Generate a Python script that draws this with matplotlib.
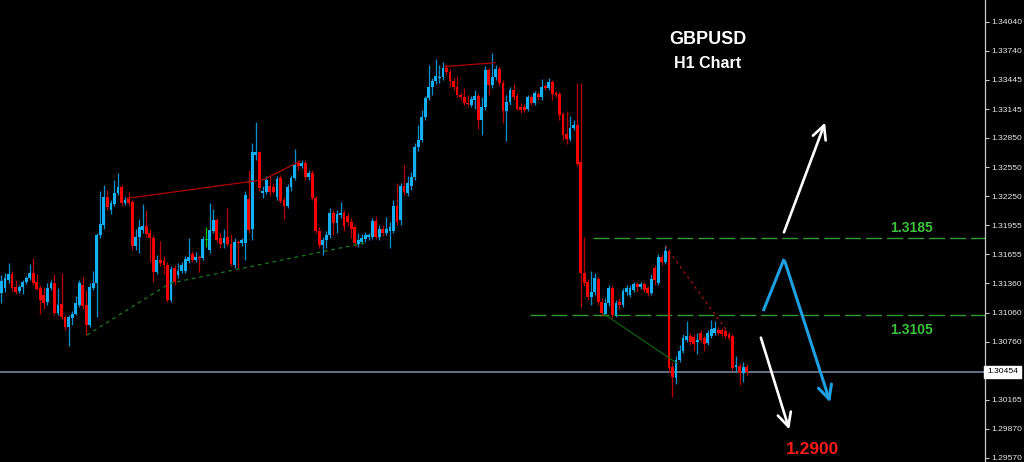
import matplotlib
matplotlib.use("Agg")
import matplotlib.pyplot as plt
import matplotlib.transforms as mtransforms
from matplotlib.patches import FancyArrowPatch

# GBPUSD H1 candles, oldest first
opens = [
    1.3126, 1.3131, 1.3139, 1.3146, 1.3132, 1.3128, 1.3132, 1.3137, 1.3141, 1.3147,
    1.3137, 1.3131, 1.3124, 1.3117, 1.3131, 1.3136, 1.3106, 1.3115, 1.3101, 1.3091,
    1.3100, 1.3105, 1.3114, 1.3134, 1.3114, 1.3093, 1.3131, 1.3136, 1.3185, 1.3196,
    1.3224, 1.3211, 1.3217, 1.3228, 1.3235, 1.3218, 1.3222, 1.3219, 1.3174, 1.3183,
    1.3191, 1.3195, 1.3187, 1.3182, 1.3148, 1.3160, 1.3159, 1.3155, 1.3119, 1.3152,
    1.3144, 1.3149, 1.3149, 1.3159, 1.3166, 1.3160, 1.3163, 1.3162, 1.3180, 1.3170,
    1.3190, 1.3201, 1.3182, 1.3177, 1.3183, 1.3176, 1.3155, 1.3178, 1.3177, 1.3177,
    1.3222, 1.3192, 1.3267, 1.3270, 1.3228, 1.3229, 1.3236, 1.3235, 1.3224, 1.3244,
    1.3221, 1.3215, 1.3235, 1.3244, 1.3259, 1.3256, 1.3259, 1.3245, 1.3249, 1.3223,
    1.3190, 1.3175, 1.3180, 1.3185, 1.3208, 1.3198, 1.3206, 1.3208, 1.3205, 1.3199,
    1.3194, 1.3176, 1.3178, 1.3181, 1.3183, 1.3183, 1.3200, 1.3183, 1.3192, 1.3187,
    1.3190, 1.3190, 1.3215, 1.3201, 1.3236, 1.3228, 1.3236, 1.3245, 1.3276, 1.3283,
    1.3306, 1.3326, 1.3337, 1.3343, 1.3346, 1.3347, 1.3357, 1.3352, 1.3343, 1.3337,
    1.3329, 1.3327, 1.3321, 1.3319, 1.3324, 1.3328, 1.3303, 1.3317, 1.3355, 1.3339,
    1.3347, 1.3356, 1.3341, 1.3312, 1.3322, 1.3334, 1.3328, 1.3317, 1.3317, 1.3315,
    1.3327, 1.3321, 1.3330, 1.3327, 1.3338, 1.3336, 1.3342, 1.3331, 1.3330, 1.3309,
    1.3289, 1.3284, 1.3295, 1.3298, 1.3260, 1.3147, 1.3137, 1.3122, 1.3127, 1.3140,
    1.3117, 1.3105, 1.3116, 1.3131, 1.3103, 1.3117, 1.3114, 1.3127, 1.3124, 1.3129,
    1.3135, 1.3132, 1.3135, 1.3131, 1.3126, 1.3152, 1.3136, 1.3163, 1.3158, 1.3169,
    1.3050, 1.3039, 1.3057, 1.3067, 1.3078, 1.3082, 1.3081, 1.3076, 1.3085, 1.3080,
    1.3075, 1.3082, 1.3085, 1.3088, 1.3088, 1.3087, 1.3084, 1.3082, 1.3050, 1.3051,
    1.3044, 1.3050,
]
highs = [
    1.3144, 1.3147, 1.3157, 1.3149, 1.3139, 1.3134, 1.3139, 1.3143, 1.3156, 1.3162,
    1.3145, 1.3134, 1.3132, 1.3136, 1.3139, 1.3146, 1.3131, 1.3147, 1.3104, 1.3104,
    1.3108, 1.3123, 1.3139, 1.3142, 1.3129, 1.3136, 1.3149, 1.3188, 1.3231, 1.3237,
    1.3232, 1.3221, 1.3242, 1.3249, 1.3237, 1.3224, 1.3229, 1.3221, 1.3192, 1.3202,
    1.3217, 1.3211, 1.3192, 1.3185, 1.3165, 1.3179, 1.3164, 1.3158, 1.3154, 1.3155,
    1.3157, 1.3158, 1.3164, 1.3182, 1.3169, 1.3168, 1.3165, 1.3184, 1.3194, 1.3218,
    1.3212, 1.3203, 1.3188, 1.3192, 1.3213, 1.3186, 1.3182, 1.3180, 1.3182, 1.3231,
    1.3252, 1.3280, 1.3301, 1.3272, 1.3236, 1.3246, 1.3246, 1.3239, 1.3246, 1.3247,
    1.3224, 1.3238, 1.3247, 1.3274, 1.3262, 1.3262, 1.3262, 1.3252, 1.3252, 1.3225,
    1.3194, 1.3183, 1.3190, 1.3213, 1.3211, 1.3211, 1.3219, 1.3211, 1.3208, 1.3203,
    1.3196, 1.3188, 1.3186, 1.3189, 1.3188, 1.3203, 1.3205, 1.3196, 1.3196, 1.3204,
    1.3199, 1.3221, 1.3239, 1.3239, 1.3257, 1.3246, 1.3250, 1.3280, 1.3298, 1.3313,
    1.3328, 1.3360, 1.3346, 1.3366, 1.3360, 1.3363, 1.3361, 1.3356, 1.3346, 1.3348,
    1.3332, 1.3336, 1.3329, 1.3328, 1.3334, 1.3331, 1.3327, 1.3359, 1.3357, 1.3372,
    1.3360, 1.3359, 1.3344, 1.3329, 1.3337, 1.3340, 1.3331, 1.3321, 1.3320, 1.3329,
    1.3329, 1.3333, 1.3332, 1.3345, 1.3340, 1.3346, 1.3344, 1.3333, 1.3332, 1.3311,
    1.3312, 1.3307, 1.3303, 1.3341, 1.3341, 1.3183, 1.3140, 1.3149, 1.3147, 1.3142,
    1.3121, 1.3121, 1.3134, 1.3133, 1.3119, 1.3121, 1.3131, 1.3134, 1.3134, 1.3137,
    1.3137, 1.3137, 1.3137, 1.3133, 1.3145, 1.3155, 1.3166, 1.3166, 1.3175, 1.3171,
    1.3055, 1.3061, 1.3073, 1.3084, 1.3097, 1.3085, 1.3084, 1.3085, 1.3088, 1.3083,
    1.3088, 1.3098, 1.3097, 1.3091, 1.3090, 1.3089, 1.3086, 1.3084, 1.3062, 1.3054,
    1.3055, 1.3053,
]
lows = [
    1.3116, 1.3127, 1.3136, 1.3128, 1.3125, 1.3126, 1.3125, 1.3135, 1.3139, 1.3134,
    1.3129, 1.3105, 1.3110, 1.3114, 1.3129, 1.3104, 1.3103, 1.3099, 1.3088, 1.3072,
    1.3093, 1.3103, 1.3112, 1.3110, 1.3083, 1.3091, 1.3129, 1.3101, 1.3182, 1.3192,
    1.3211, 1.3207, 1.3215, 1.3226, 1.3215, 1.3216, 1.3215, 1.3170, 1.3170, 1.3167,
    1.3188, 1.3183, 1.3158, 1.3137, 1.3146, 1.3154, 1.3145, 1.3117, 1.3117, 1.3134,
    1.3141, 1.3147, 1.3147, 1.3157, 1.3158, 1.3158, 1.3148, 1.3160, 1.3173, 1.3167,
    1.3188, 1.3178, 1.3172, 1.3172, 1.3174, 1.3154, 1.3152, 1.3152, 1.3174, 1.3160,
    1.3188, 1.3180, 1.3262, 1.3231, 1.3223, 1.3227, 1.3225, 1.3228, 1.3221, 1.3218,
    1.3202, 1.3213, 1.3231, 1.3242, 1.3252, 1.3254, 1.3242, 1.3242, 1.3221, 1.3187,
    1.3172, 1.3165, 1.3172, 1.3182, 1.3185, 1.3187, 1.3203, 1.3190, 1.3195, 1.3182,
    1.3174, 1.3173, 1.3176, 1.3178, 1.3180, 1.3181, 1.3181, 1.3180, 1.3184, 1.3185,
    1.3172, 1.3188, 1.3196, 1.3196, 1.3226, 1.3225, 1.3232, 1.3242, 1.3272, 1.3281,
    1.3303, 1.3324, 1.3329, 1.3340, 1.3341, 1.3344, 1.3349, 1.3337, 1.3334, 1.3327,
    1.3324, 1.3319, 1.3318, 1.3317, 1.3315, 1.3294, 1.3288, 1.3313, 1.3329, 1.3336,
    1.3344, 1.3338, 1.3300, 1.3282, 1.3319, 1.3324, 1.3313, 1.3310, 1.3311, 1.3312,
    1.3319, 1.3319, 1.3324, 1.3324, 1.3334, 1.3334, 1.3324, 1.3327, 1.3303, 1.3283,
    1.3279, 1.3282, 1.3293, 1.3256, 1.3112, 1.3133, 1.3119, 1.3114, 1.3124, 1.3114,
    1.3103, 1.3103, 1.3113, 1.3100, 1.3101, 1.3110, 1.3112, 1.3124, 1.3122, 1.3127,
    1.3127, 1.3130, 1.3127, 1.3123, 1.3124, 1.3134, 1.3134, 1.3155, 1.3156, 1.3045,
    1.3019, 1.3033, 1.3055, 1.3065, 1.3076, 1.3073, 1.3067, 1.3064, 1.3076, 1.3067,
    1.3073, 1.3080, 1.3083, 1.3083, 1.3082, 1.3080, 1.3078, 1.3047, 1.3045, 1.3032,
    1.3035, 1.3042,
]
closes = [
    1.3138, 1.3141, 1.3146, 1.3131, 1.3127, 1.3132, 1.3137, 1.3141, 1.3147, 1.3136,
    1.3130, 1.3119, 1.3116, 1.3131, 1.3136, 1.3106, 1.3114, 1.3101, 1.3091, 1.3101,
    1.3105, 1.3116, 1.3136, 1.3113, 1.3093, 1.3132, 1.3136, 1.3185, 1.3197, 1.3224,
    1.3214, 1.3218, 1.3228, 1.3235, 1.3218, 1.3221, 1.3218, 1.3174, 1.3183, 1.3194,
    1.3195, 1.3186, 1.3182, 1.3148, 1.3160, 1.3157, 1.3155, 1.3119, 1.3151, 1.3137,
    1.3149, 1.3155, 1.3161, 1.3163, 1.3160, 1.3163, 1.3162, 1.3181, 1.3180, 1.3191,
    1.3201, 1.3180, 1.3176, 1.3182, 1.3176, 1.3156, 1.3178, 1.3177, 1.3180, 1.3226,
    1.3191, 1.3270, 1.3270, 1.3234, 1.3231, 1.3242, 1.3230, 1.3230, 1.3243, 1.3220,
    1.3215, 1.3235, 1.3244, 1.3257, 1.3256, 1.3259, 1.3245, 1.3249, 1.3223, 1.3190,
    1.3175, 1.3180, 1.3185, 1.3208, 1.3198, 1.3207, 1.3208, 1.3195, 1.3199, 1.3192,
    1.3177, 1.3180, 1.3182, 1.3185, 1.3185, 1.3200, 1.3183, 1.3192, 1.3187, 1.3192,
    1.3194, 1.3215, 1.3199, 1.3236, 1.3229, 1.3239, 1.3245, 1.3276, 1.3283, 1.3306,
    1.3326, 1.3337, 1.3343, 1.3348, 1.3347, 1.3357, 1.3352, 1.3343, 1.3337, 1.3329,
    1.3327, 1.3321, 1.3320, 1.3325, 1.3328, 1.3303, 1.3317, 1.3355, 1.3339, 1.3347,
    1.3356, 1.3341, 1.3312, 1.3322, 1.3334, 1.3327, 1.3315, 1.3314, 1.3314, 1.3327,
    1.3321, 1.3331, 1.3327, 1.3337, 1.3336, 1.3342, 1.3330, 1.3329, 1.3308, 1.3288,
    1.3284, 1.3295, 1.3298, 1.3258, 1.3147, 1.3136, 1.3122, 1.3127, 1.3141, 1.3117,
    1.3106, 1.3116, 1.3131, 1.3103, 1.3116, 1.3114, 1.3128, 1.3131, 1.3131, 1.3135,
    1.3132, 1.3135, 1.3129, 1.3126, 1.3140, 1.3139, 1.3163, 1.3158, 1.3169, 1.3049,
    1.3040, 1.3057, 1.3067, 1.3080, 1.3082, 1.3076, 1.3074, 1.3078, 1.3078, 1.3074,
    1.3085, 1.3089, 1.3090, 1.3085, 1.3084, 1.3082, 1.3080, 1.3049, 1.3052, 1.3044,
    1.3050, 1.3045,
]

y_ticks = [1.34040, 1.33740, 1.33445, 1.33145, 1.32850, 1.32550, 1.32250, 1.31955,
           1.31655, 1.31360, 1.31060, 1.30760, 1.30165, 1.29870, 1.29570]
bid = 1.30454
levels = [1.3182, 1.3104]
level_labels = ["1.3185", "1.3105"]
level_start = [167.5, 149.7]
target_label = "1.2900"

BULL, BULL_WICK = "#14aef2", "#0c8cc8"
BEAR, BEAR_WICK = "#f40000", "#b40000"
DOJI = "#00c000"

fig = plt.figure(figsize=(10.24, 4.62), dpi=100, facecolor="black")
ax = fig.add_axes([0, 0, 985 / 1024, 1])
ax.set_facecolor("black")

n = len(closes)
xs = list(range(n))
body_col, wick_col, bottoms, heights = [], [], [], []
for o, c in zip(opens, closes):
    if c > o:
        body_col.append(BULL)
        wick_col.append(BULL_WICK)
    elif c < o:
        body_col.append(BEAR)
        wick_col.append(BEAR_WICK)
    else:
        body_col.append(DOJI)
        wick_col.append(DOJI)
    bottoms.append(min(o, c))
    heights.append(max(abs(c - o), 0.00010))

ax.vlines(xs, lows, highs, colors=wick_col, linewidth=0.95, zorder=3)
ax.bar(xs, heights, bottom=bottoms, width=0.8, color=body_col, linewidth=0, zorder=4)

ax.set_xlim(-0.42, 278.5)
ax.set_ylim(1.29529, 1.34262)

# level lines and current price
for lv, x0 in zip(levels, level_start):
    ax.plot([x0, 278.5], [lv, lv], color="#2f9a2f", linewidth=1.0,
            dashes=(11.5, 3.6), zorder=2)
ax.axhline(bid, color="#8090a4", linewidth=1.1, zorder=2)

# trend lines
ax.plot([35.5, 74.1, 84.5], [1.3223, 1.3242, 1.3261], color="#b00000", linewidth=0.9, zorder=5)
ax.plot([125.6, 139.8], [1.3358, 1.3362], color="#b00000", linewidth=0.9, zorder=5)
ax.plot([188, 205.5], [1.3174, 1.3087], color="#b01010", linewidth=0.9,
        dashes=(2, 3), zorder=5)
ax.plot([170.4, 191.3], [1.3105, 1.3054], color="#0c6a0c", linewidth=0.8, zorder=5)
ax.plot([24.2, 47.7, 103.8], [1.3083, 1.3136, 1.3178], color="#1a7a1a",
        linewidth=0.9, dashes=(3, 3), zorder=5)

# scenario arrows
arrow_kw = dict(arrowstyle="->,head_length=0.7,head_width=0.35", mutation_scale=14, zorder=6)
ax.add_patch(FancyArrowPatch((221.3, 1.31855), (233.5, 1.33033), color="white",
                             linewidth=1.9, **arrow_kw))
ax.add_patch(FancyArrowPatch((214.8, 1.30830), (223.3, 1.29836), color="white",
                             linewidth=1.9, **arrow_kw))
ax.plot([215.7, 221.6], [1.31076, 1.31609], color="#1e9fe0", linewidth=2.2,
        solid_capstyle="butt", zorder=6)
ax.add_patch(FancyArrowPatch((221.6, 1.31609), (234.9, 1.30113), color="#1e9fe0",
                             linewidth=2.2, **arrow_kw))

# right price axis
ax.yaxis.tick_right()
ax.set_yticks(y_ticks)
ax.set_yticklabels([f"{t:.5f}" for t in y_ticks])
ax.tick_params(axis="y", colors="#c8c8c8", labelcolor="#e8e8e8", length=3, width=0.8,
               pad=1.5, labelsize=6.1)
for lab in ax.get_yticklabels():
    lab.set_fontfamily("Liberation Sans")
ax.set_xticks([])
for side in ["left", "top", "bottom"]:
    ax.spines[side].set_visible(False)
ax.spines["right"].set_color("#c8c8c8")
ax.spines["right"].set_linewidth(0.9)

trans = mtransforms.blended_transform_factory(ax.transAxes, ax.transData)
ax.text(1.002, bid, f"{bid:.5f}", transform=trans, ha="left", va="center",
        fontsize=6.1, family="Liberation Sans", color="black", clip_on=False,
        bbox=dict(boxstyle="square,pad=0.3", facecolor="white", edgecolor="white"))

# texts
fig.text(0.6909, 0.9149, "GBPUSD", color="white", fontsize=13, fontweight="bold",
         family="Liberation Sans", ha="center", va="center")
fig.text(0.6912, 0.8636, "H1 Chart", color="white", fontsize=11.5, fontweight="bold",
         family="Liberation Sans", ha="center", va="center")
fig.text(0.8901, 0.5065, level_labels[0], color="#3cc23c", fontsize=10, fontweight="bold",
         family="Liberation Sans", ha="center", va="center")
fig.text(0.8906, 0.2857, level_labels[1], color="#3cc23c", fontsize=10, fontweight="bold",
         family="Liberation Sans", ha="center", va="center")
fig.text(0.7935, 0.026, target_label, color="#ff1a1a", fontsize=12.5, fontweight="bold",
         family="Liberation Sans", ha="center", va="center")

fig.savefig("out.png", dpi=100, facecolor="black")
